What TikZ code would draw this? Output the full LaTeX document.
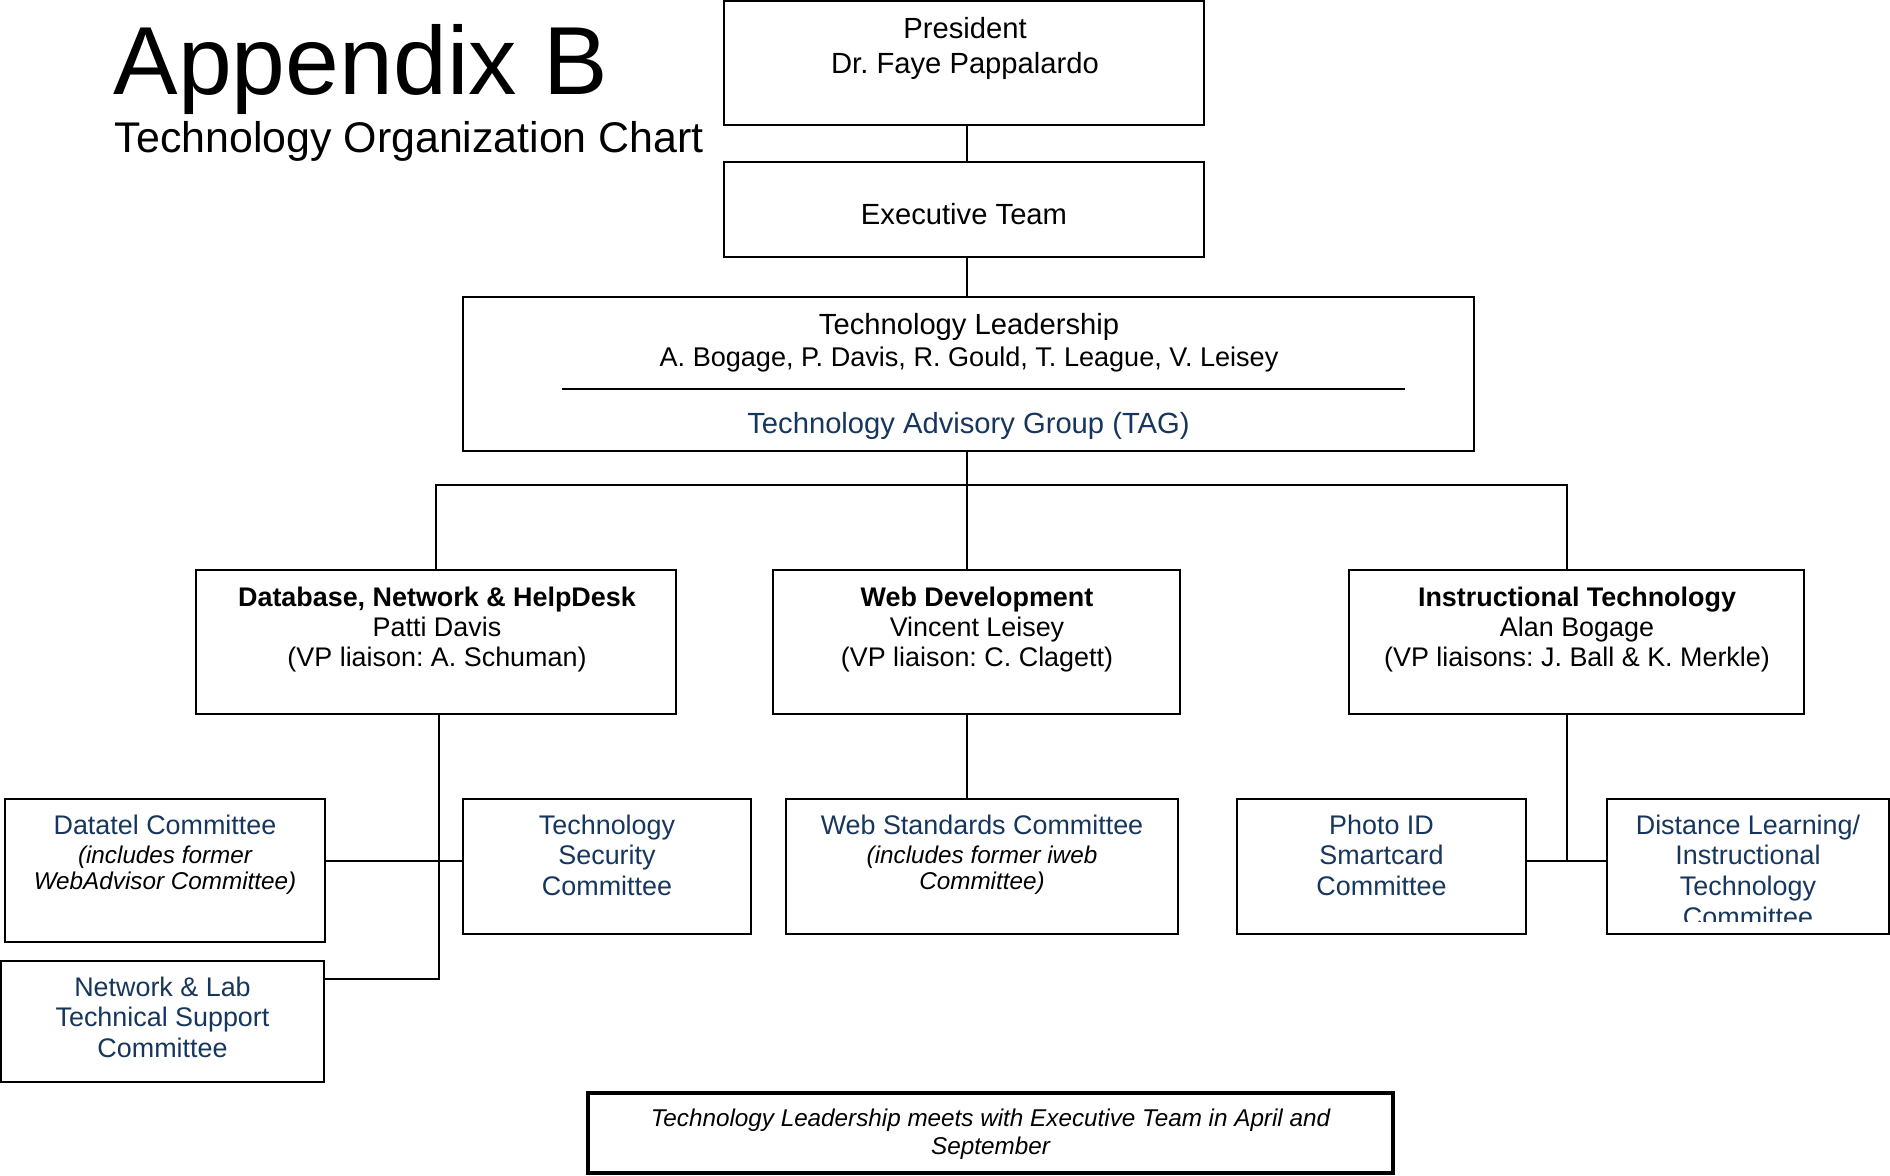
\documentclass[tikz,border=0pt]{standalone}
\usepackage{fontspec}
\setmainfont{Liberation Sans}
\usetikzlibrary{fit,calc}
\definecolor{navy}{RGB}{23,54,93}
\frenchspacing
\begin{document}
\begin{tikzpicture}[x=0.01cm,y=-0.01cm,
  box/.style={draw,line width=0.7pt,inner sep=0,fit={#1}},
  notebox/.style={draw,line width=1.3pt,inner sep=0,fit={#1}},
  con/.style={line width=0.6pt},
  big/.style={inner sep=0,align=center,anchor=base,font=\fontsize{8.3}{#1}\selectfont},
  tx/.style={inner sep=0,align=center,anchor=base,font=\fontsize{7.65}{#1}\selectfont},
  itx/.style={inner sep=0,align=center,anchor=base,font=\fontsize{6.9}{#1}\selectfont\itshape},
  blue/.style={text=navy}]
\useasboundingbox (0,0) rectangle (1890,1175);
% titles
\node[inner sep=0,anchor=base west,font=\fontsize{27.5}{30}\selectfont] (title) at (113,94) {Appendix B};
\node[inner sep=0,anchor=base west,font=\fontsize{12.2}{14}\selectfont] (subtitle) at (114,152) {Technology Organization Chart};
% boxes
\node[box={(724,1)(1204,125)}] (pres) {};
\node[box={(724,162)(1204,257)}] (exec) {};
\node[box={(463,297)(1474,451)}] (tl) {};
\node[box={(196,570)(676,714)}] (db) {};
\node[box={(773,570)(1180,714)}] (web) {};
\node[box={(1349,570)(1804,714)}] (instr) {};
\node[box={(5,799)(325,942)}] (datatel) {};
\node[box={(463,799)(751,934)}] (techsec) {};
\node[box={(1,961)(324,1082)}] (netlab) {};
\node[box={(786,799)(1178,934)}] (webstd) {};
\node[box={(1237,799)(1526,934)}] (photo) {};
\node[box={(1607,799)(1889,934)}] (dl) {};
\node[notebox={(588,1093)(1393,1173)}] (note) {};
% separator in TL box
\coordinate (sepL) at (562,389);
\coordinate (sepR) at (1405,389);
\draw[con] (sepL) -- (sepR);
% texts (anchor base = baseline of last line)
\node[big=9.7] (presT) at (965,73) {President\\Dr. Faye Pappalardo};
\node[big=9.7] (execT) at (964,224) {Executive Team};
\node[big=9.7] (tlT) at (969,334) {Technology Leadership};
\node[inner sep=0,anchor=base,font=\fontsize{7.7}{9}\selectfont] (tlN) at (969,366) {A. Bogage, P. Davis, R. Gould, T. League, V. Leisey};
\node[big=9.7,blue] (tag) at (968.5,433) {Technology Advisory Group (TAG)};
\node[tx=8.4] (dbT) at (437,666) {\textbf{Database, Network \& HelpDesk}\\Patti Davis\\(VP liaison: A. Schuman)};
\node[tx=8.4] (webT) at (977,666) {\textbf{Web Development}\\Vincent Leisey\\(VP liaison: C. Clagett)};
\node[tx=8.4] (instrT) at (1577,666) {\textbf{Instructional Technology}\\Alan Bogage\\(VP liaisons: J. Ball \& K. Merkle)};
\node[tx=8.6,blue] (datatelT) at (165,834.5) {Datatel Committee};
\node[itx=7.4] (datatelN) at (165,889.5) {(includes former\\WebAdvisor Committee)};
\node[tx=8.6,blue] (techsecT) at (607,895) {Technology\\Security\\Committee};
\node[tx=8.6,blue] (netlabT) at (162.5,1057) {Network \& Lab\\Technical Support\\Committee};
\node[tx=8.6,blue] (webstdT) at (982,834.5) {Web Standards Committee};
\node[itx=7.4] (webstdN) at (982,889.5) {(includes former iweb\\Committee)};
\node[tx=8.6,blue] (photoT) at (1381.5,895) {Photo ID\\Smartcard\\Committee};
\begin{scope}
\clip (1607,799) rectangle (1889,921);
\node[tx=8.7,blue] (dlT) at (1748,926) {Distance Learning/\\Instructional\\Technology\\Committee};
\end{scope}
\node[itx=7.7] (noteT) at (990.5,1154) {Technology Leadership meets with Executive Team in April and\\September};
% connectors
\coordinate (spine) at (967,485);
\coordinate (busL) at (436,485);
\coordinate (busR) at (1567,485);
\draw[con] (pres.south -| spine) -- (exec.north -| spine);
\draw[con] (exec.south -| spine) -- (tl.north -| spine);
\draw[con] (tl.south -| spine) -- (spine);
\draw[con] (db.north -| busL) -- (busL) -- (busR) -- (instr.north -| busR);
\draw[con] (spine) -- (web.north -| spine);
\draw[con] (web.south -| spine) -- (webstd.north -| spine);
\coordinate (dbtr) at (439,979);
\coordinate (dbj) at (439,861);
\draw[con] (db.south -| dbtr) -- (dbtr) -- (netlab.east |- dbtr);
\draw[con] (datatel.east |- dbj) -- (techsec.west |- dbj);
\coordinate (itj) at (1567,861);
\draw[con] (instr.south -| itj) -- (itj);
\draw[con] (photo.east |- itj) -- (dl.west |- itj);
\end{tikzpicture}
\end{document}
